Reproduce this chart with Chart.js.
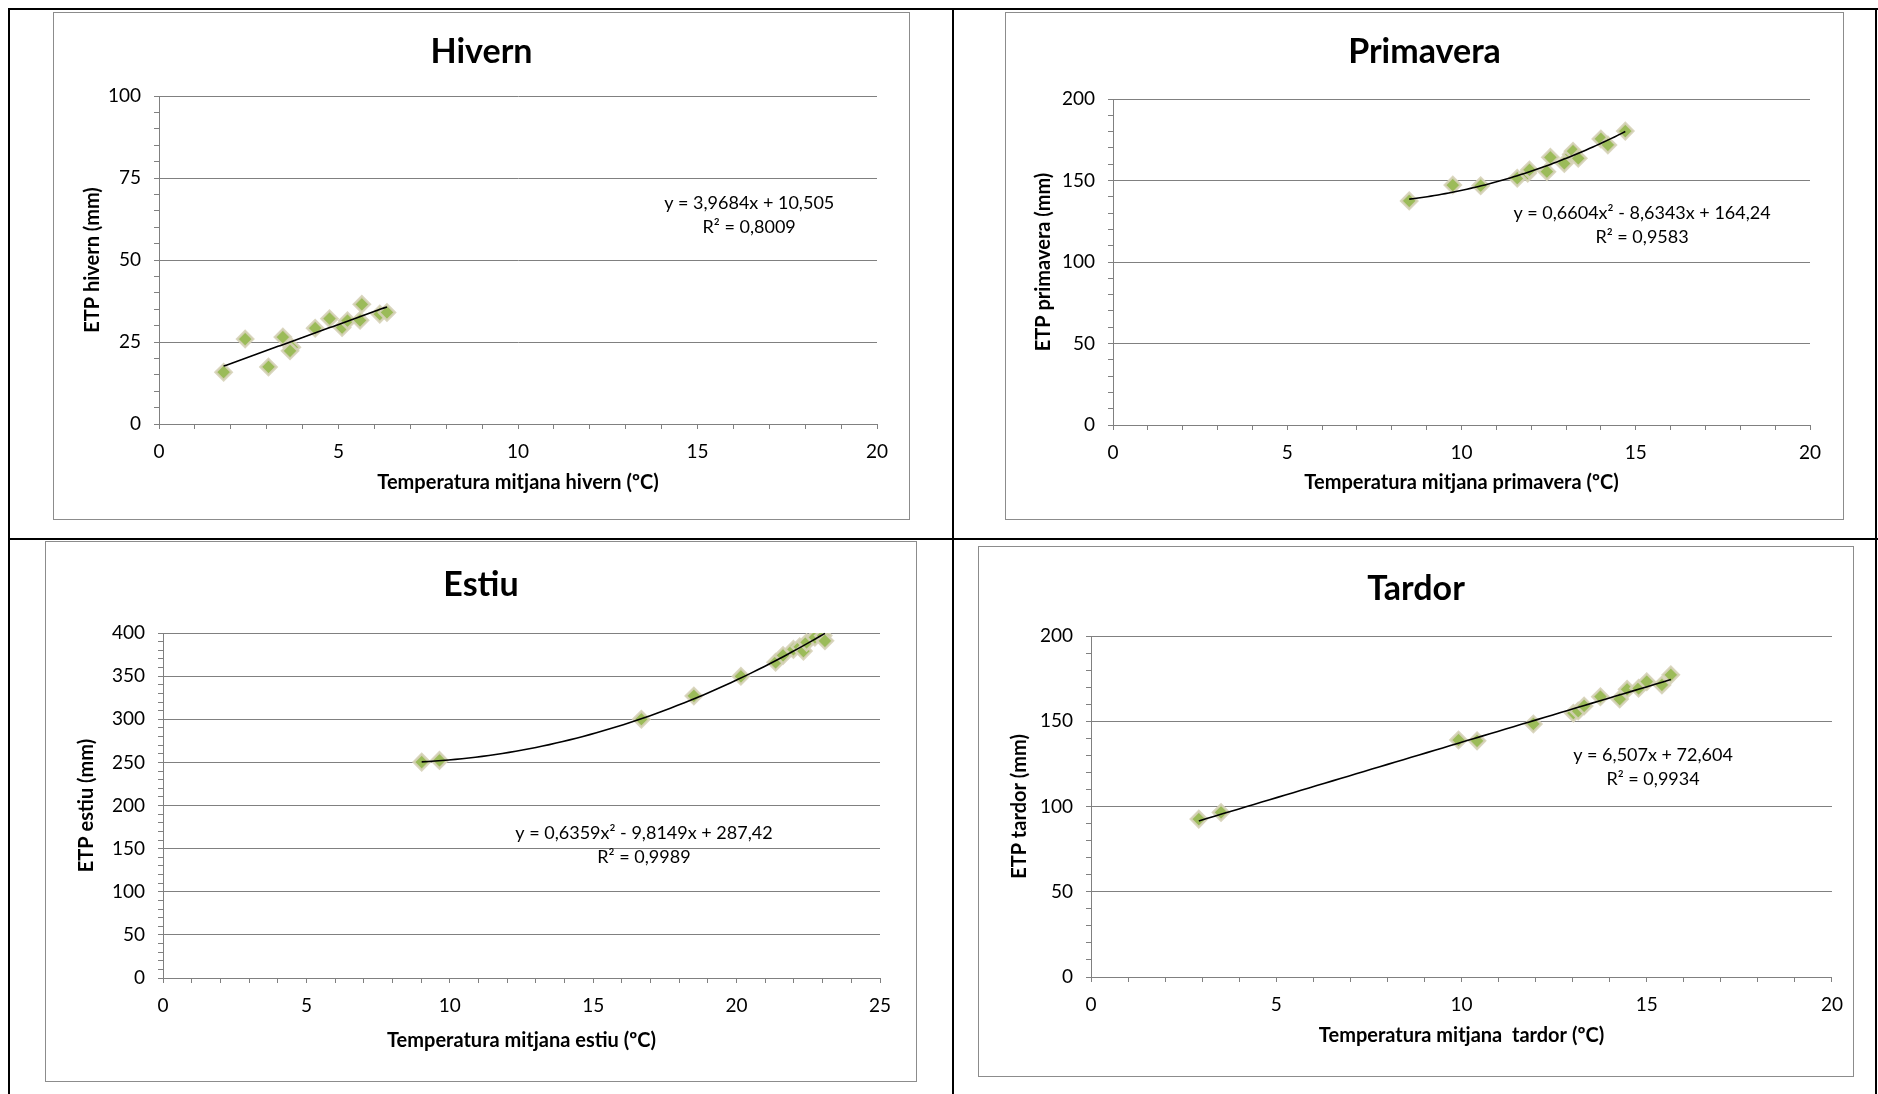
<!DOCTYPE html>
<html>
<head>
<meta charset="utf-8">
<script src="https://cdn.jsdelivr.net/npm/chart.js@4.4.1/dist/chart.umd.min.js"></script>
<style>
  body { margin: 0; background: #fff; width: 1878px; height: 1094px; overflow: hidden; position: relative; }
  .ln { position: absolute; background: #000; }
  .frame { position: absolute; border: 1px solid #8c8c8c; box-sizing: border-box; pointer-events: none; }
  canvas { position: absolute; }
</style>
</head>
<body>
<div class="ln" style="left:8px;top:8px;width:1870px;height:2px"></div>
<div class="ln" style="left:8px;top:8px;width:2px;height:1086px"></div>
<div class="ln" style="left:952px;top:8px;width:2px;height:1086px"></div>
<div class="ln" style="left:8px;top:538px;width:1870px;height:2px"></div>
<div class="ln" style="left:1875px;top:8px;width:2px;height:1086px"></div>

<script>
// --- DADES ---
// Hivern
const hivernTemp = [1.8, 2.4, 3.05, 3.45, 3.7, 3.65, 4.35, 4.75, 5.1, 5.25, 5.6, 5.65, 6.15, 6.35];
const hivernEtp  = [15.8, 25.9, 17.4, 26.5, 23.4, 22.3, 29.2, 32.1, 29.4, 31.5, 31.6, 36.5, 33.5, 34.0];
const hivernXTicks = [0, 5, 10, 15, 20];
const hivernYTicks = [0, 25, 50, 75, 100];
const hivernCoef = [10.505, 3.9684];          // c0 + c1*x
const hivernEq = ['y = 3,9684x + 10,505', 'R² = 0,8009'];

// Primavera
const primTemp = [8.5, 9.75, 10.55, 11.6, 11.9, 11.95, 12.45, 12.55, 12.95, 13.15, 13.2, 13.35, 14.0, 14.2, 14.7];
const primEtp  = [137.5, 147.2, 146.8, 151.4, 154.5, 156.5, 155.4, 164.2, 160.5, 166.0, 168.0, 163.6, 175.5, 171.8, 180.3];
const primXTicks = [0, 5, 10, 15, 20];
const primYTicks = [0, 50, 100, 150, 200];
const primCoef = [164.24, -8.6343, 0.6604];
const primEq = ['y = 0,6604x² - 8,6343x + 164,24', 'R² = 0,9583'];

// Estiu
const estiuTemp = [9.02, 9.64, 16.68, 18.51, 20.15, 21.36, 21.62, 21.98, 22.2, 22.33, 22.44, 22.73, 23.02, 23.08];
const estiuEtp  = [250.3, 252.3, 300, 327, 349.8, 366, 374, 381, 384, 379, 389, 395, 397, 391];
const estiuXTicks = [0, 5, 10, 15, 20, 25];
const estiuYTicks = [0, 50, 100, 150, 200, 250, 300, 350, 400];
const estiuCoef = [287.42, -9.8149, 0.6359];
const estiuEq = ['y = 0,6359x² - 9,8149x + 287,42', 'R² = 0,9989'];

// Tardor
const tardorTemp = [2.91, 3.51, 9.92, 10.42, 11.94, 13.02, 13.15, 13.31, 13.75, 14.27, 14.47, 14.78, 15.0, 15.41, 15.65];
const tardorEtp  = [92.6, 96.5, 139.0, 138.5, 148.4, 154.7, 156.0, 159.0, 164.4, 163.0, 168.7, 169.3, 173.2, 171.3, 177.2];
const tardorXTicks = [0, 5, 10, 15, 20];
const tardorYTicks = [0, 50, 100, 150, 200];
const tardorCoef = [72.604, 6.507];
const tardorEq = ['y = 6,507x + 72,604', 'R² = 0,9934'];

Chart.defaults.font.family = 'Lato';
Chart.defaults.color = '#000';

const GRAY = '#808080';
const TICK_FONT = 19, AXIS_FONT = 20, TITLE_FONT = 34, EQ_FONT = 18;

function polyVal(coef, x) {
  let s = 0;
  for (let i = coef.length - 1; i >= 0; i--) s = s * x + coef[i];
  return s;
}

function buildChart(c) {
  const [L, T, W, H] = c.box;
  const cv = document.createElement('canvas');
  cv.width = W; cv.height = H;
  cv.style.left = L + 'px'; cv.style.top = T + 'px';
  document.body.appendChild(cv);
  const fr = document.createElement('div');
  fr.className = 'frame';
  fr.style.cssText = `left:${L}px;top:${T}px;width:${W}px;height:${H}px`;
  document.body.appendChild(fr);

  // línia de tendència i equació
  const trend = {
    id: 'trend',
    afterDatasetsDraw(chart) {
      const { ctx, scales: { x, y } } = chart;
      const x0 = Math.min(...c.temp), x1 = Math.max(...c.temp);
      ctx.save();
      ctx.strokeStyle = '#000';
      ctx.lineWidth = 1.6;
      ctx.beginPath();
      const n = 60;
      for (let i = 0; i <= n; i++) {
        const xv = x0 + (x1 - x0) * i / n;
        const px = x.getPixelForValue(xv), py = y.getPixelForValue(polyVal(c.coef, xv));
        if (i === 0) ctx.moveTo(px, py); else ctx.lineTo(px, py);
      }
      ctx.stroke();
      ctx.font = EQ_FONT + 'px Lato';
      ctx.fillStyle = '#000';
      ctx.textAlign = 'center';
      ctx.textBaseline = 'middle';
      const ex = x.getPixelForValue(c.eqAt[0]), ey = y.getPixelForValue(c.eqAt[1]);
      c.eq.forEach((t, i) => ctx.fillText(t, ex, ey + i * 24));
      ctx.restore();
    }
  };

  const tHalf = TITLE_FONT * 1.2 / 2, aHalf = AXIS_FONT * 1.2 / 2;
  new Chart(cv, {
    type: 'scatter',
    data: {
      datasets: [{
        data: c.temp.map((t, i) => ({ x: t, y: c.etp[i] })),
        pointStyle: 'rectRot',
        pointRadius: 8,
        pointHoverRadius: 8,
        backgroundColor: '#9bbb59',
        borderColor: 'rgba(214,209,184,0.9)',
        borderWidth: 2.5
      }]
    },
    options: {
      responsive: false,
      animation: false,
      devicePixelRatio: 1,
      layout: { padding: 0 },
      plugins: {
        legend: { display: false },
        tooltip: { enabled: false },
        title: {
          display: true,
          text: c.title,
          color: '#000',
          font: { family: 'Lato', size: TITLE_FONT, weight: 'bold', lineHeight: 1.2 },
          padding: { top: c.titleY - tHalf, bottom: c.pad[1] - c.titleY - tHalf }
        }
      },
      scales: {
        x: {
          type: 'linear',
          min: 0,
          max: c.xTicks[c.xTicks.length - 1],
          afterFit(s) { s.height = c.pad[3]; },
          ticks: {
            stepSize: 1, autoSkip: false, maxRotation: 0, padding: 11,
            font: { size: TICK_FONT },
            callback: v => c.xTicks.includes(v) ? String(v) : ''
          },
          grid: { drawOnChartArea: false, tickLength: 5, color: GRAY, tickColor: GRAY },
          border: { color: GRAY },
          title: {
            display: true, text: c.xTitle,
            font: { size: AXIS_FONT, weight: 'bold', lineHeight: 1.2 },
            padding: { top: 0, bottom: c.xTitleOff - aHalf }
          }
        },
        y: {
          type: 'linear',
          min: 0,
          max: c.yTicks[c.yTicks.length - 1],
          afterFit(s) { s.width = c.pad[0]; },
          ticks: {
            stepSize: c.yMinor, autoSkip: false, padding: 13,
            font: { size: TICK_FONT },
            callback: v => c.yTicks.includes(v) ? String(v) : ''
          },
          grid: {
            tickLength: 5,
            color: ctx => (ctx.tick && c.yTicks.includes(ctx.tick.value)) ? GRAY : 'rgba(0,0,0,0)',
            tickColor: GRAY
          },
          border: { color: GRAY },
          title: {
            display: true, text: c.yTitle,
            font: { size: AXIS_FONT, weight: 'bold', lineHeight: 1.2 },
            padding: { top: c.yTitleX - aHalf, bottom: 0 }
          }
        },
        // marge dret buit perquè el títol quedi centrat a tot l'ample
        gap: {
          type: 'linear',
          position: 'right',
          min: 0, max: 1,
          afterFit(s) { s.width = c.pad[2]; },
          ticks: { display: false },
          grid: { display: false },
          border: { display: false }
        }
      }
    },
    plugins: [trend]
  });
}

// box: [left, top, width, height]; pad: [plotLeft, plotTop, plotRight, plotBottom]
buildChart({
  box: [53, 12, 857, 508], pad: [106, 84, 33, 96], titleY: 40.5, xTitleOff: 37, yTitleX: 40,
  title: 'Hivern', xTitle: 'Temperatura mitjana hivern (ºC)', yTitle: 'ETP hivern (mm)',
  temp: hivernTemp, etp: hivernEtp, xTicks: hivernXTicks, yTicks: hivernYTicks, yMinor: 5,
  coef: hivernCoef, eq: hivernEq, eqAt: [16.44, 67.2]
});
buildChart({
  box: [1005, 12, 839, 508], pad: [108, 87, 34, 95], titleY: 40.5, xTitleOff: 37, yTitleX: 39,
  title: 'Primavera', xTitle: 'Temperatura mitjana primavera (ºC)', yTitle: 'ETP primavera (mm)',
  temp: primTemp, etp: primEtp, xTicks: primXTicks, yTicks: primYTicks, yMinor: 10,
  coef: primCoef, eq: primEq, eqAt: [15.18, 130]
});
buildChart({
  box: [45, 541, 872, 541], pad: [118, 92, 37, 104], titleY: 44.5, xTitleOff: 41, yTitleX: 42,
  title: 'Estiu', xTitle: 'Temperatura mitjana estiu (ºC)', yTitle: 'ETP estiu (mm)',
  temp: estiuTemp, etp: estiuEtp, xTicks: estiuXTicks, yTicks: estiuYTicks, yMinor: 10,
  coef: estiuCoef, eq: estiuEq, eqAt: [16.77, 167.5]
});
buildChart({
  box: [978, 546, 876, 531], pad: [113, 90, 18, 100], titleY: 43.5, xTitleOff: 41, yTitleX: 42,
  title: 'Tardor', xTitle: 'Temperatura mitjana  tardor (ºC)', yTitle: 'ETP tardor (mm)',
  temp: tardorTemp, etp: tardorEtp, xTicks: tardorXTicks, yTicks: tardorYTicks, yMinor: 10,
  coef: tardorCoef, eq: tardorEq, eqAt: [15.17, 129.9]
});
</script>
</body>
</html>
